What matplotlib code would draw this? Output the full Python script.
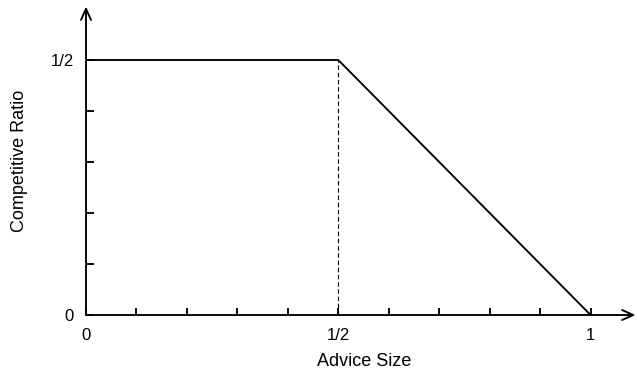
import numpy as np
import matplotlib
matplotlib.use("Agg")
import matplotlib.pyplot as plt

plt.rcParams['font.family'] = ['Liberation Sans', 'DejaVu Sans']

# Competitive ratio as a function of advice size
advice = [0.0, 0.5, 1.0]
ratio = [0.5, 0.5, 0.0]

# Vertical guide at the breakpoint
guide_x = 0.5
guide_y = 0.5

x_ticks = np.round(np.arange(0, 1.01, 0.1), 2)
x_tick_labels = {0.0: "0", 0.5: "1/2", 1.0: "1"}
y_ticks = np.round(np.arange(0, 0.51, 0.1), 2)
y_tick_labels = {0.0: "0", 0.5: "1/2"}

W, H = 637, 371
fig = plt.figure(figsize=(W / 100, H / 100), dpi=100)
ax = fig.add_axes([86 / W, 56 / H, (W - 86) / W, (315 - 6) / H])

xmax = (W - 86) / 504.6
ymax = (315 - 6) / 510.0
ax.set_xlim(0, xmax)
ax.set_ylim(0, ymax)

for s in ax.spines.values():
    s.set_visible(False)

lw = 1.35
ax.plot(advice, ratio, color='black', lw=lw, solid_joinstyle='miter', zorder=3)
ax.plot([guide_x, guide_x], [0, guide_y], color='black', lw=0.8,
        dashes=(4, 2.5), zorder=2)

arrow = dict(arrowstyle='->,head_length=0.8,head_width=0.36', color='black',
             lw=lw, shrinkA=0, shrinkB=0, mutation_scale=10)
ax.annotate('', xy=(xmax - 0.003, 0), xytext=(0, 0), arrowprops=arrow,
            annotation_clip=False)
ax.annotate('', xy=(0, ymax - 0.001), xytext=(0, 0), arrowprops=arrow,
            annotation_clip=False)

ax.set_xticks(x_ticks)
ax.set_xticklabels([x_tick_labels.get(float(t), "") for t in x_ticks])
ax.set_yticks(y_ticks)
ax.set_yticklabels([y_tick_labels.get(float(t), "") for t in y_ticks])
ax.tick_params(axis='x', direction='in', length=5, width=lw, pad=9,
               labelsize=12)
ax.tick_params(axis='y', direction='in', length=5.8, width=lw, pad=9,
               labelsize=12)

fig.text(364 / W, 1 - 362 / H, "Advice Size", ha='center', va='center',
         fontsize=13)
fig.text(20 / W, 1 - 161 / H, "Competitive Ratio", ha='center', va='center',
         rotation=90, fontsize=13)

fig.savefig("out.png", dpi=100)
